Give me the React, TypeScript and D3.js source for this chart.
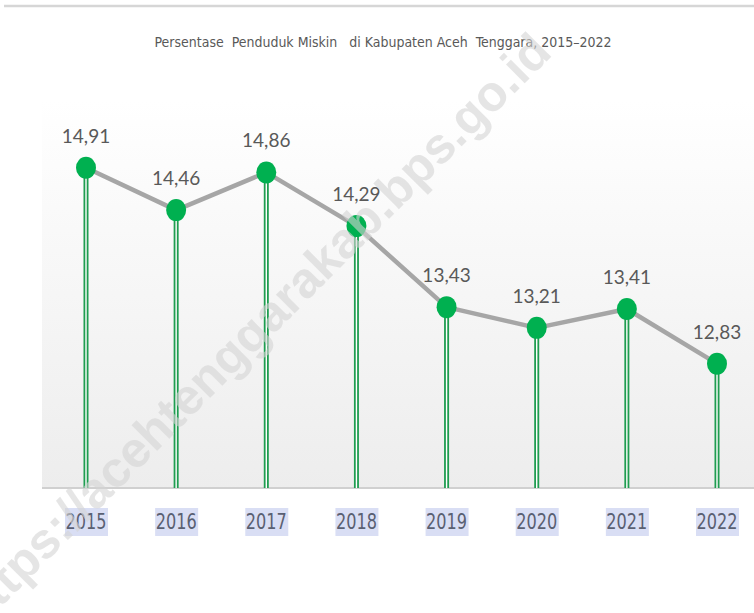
import React from "react";
import * as d3 from "d3";

const years = ["2015", "2016", "2017", "2018", "2019", "2020", "2021", "2022"];
const values = [14.91, 14.46, 14.86, 14.29, 13.43, 13.21, 13.41, 12.83];
const labels = ["14,91", "14,46", "14,86", "14,29", "13,43", "13,21", "13,41", "12,83"];
const title = "Persentase  Penduduk Miskin   di Kabupaten Aceh  Tenggara, 2015\u20132022";
const watermark = "https://acehtenggarakab.bps.go.id";

const W = 754;
const H = 613;
const plotLeft = 42;
const plotRight = 754;
const plotTop = 100;
const plotBottom = 488;

export default function App() {
  const x = d3.scalePoint<string>().domain(years).range([86, 717]);
  const y = d3.scaleLinear().domain([11.51, 15.5]).range([plotBottom, 488 - 3.99 * 94.2]);
  const line = d3
    .line<number>()
    .x((_, i) => x(years[i]) as number)
    .y((d) => y(d));

  return (
    <svg
      width={W}
      height={H}
      style={{ position: "absolute", left: 0, top: 0, background: "#fff" }}
    >
      <defs>
        <linearGradient id="bg" x1="0" y1="0" x2="0" y2="1">
          <stop offset="0" stopColor="#ffffff" />
          <stop offset="1" stopColor="#ededed" />
        </linearGradient>
      </defs>
      <rect x={0} y={0} width={W} height={H} fill="#fff" />
      <line x1={4} x2={W} y1={6} y2={6} stroke="#d6d6d6" strokeWidth={2.5} />
      <rect
        x={plotLeft}
        y={plotTop}
        width={plotRight - plotLeft}
        height={plotBottom - plotTop}
        fill="url(#bg)"
      />
      <line x1={plotLeft} x2={plotRight} y1={plotBottom} y2={plotBottom} stroke="#d0d0d0" strokeWidth={2} />
      <text
        x={383}
        y={47}
        textAnchor="middle"
        fontFamily="'DejaVu Sans Condensed', 'Open Sans', sans-serif"
        fontSize={14}
        fill="#595959"
        textLength={457}
        lengthAdjust="spacingAndGlyphs"
        style={{ whiteSpace: "pre" }}
      >
        {title}
      </text>
      {values.map((v, i) => {
        const cx = x(years[i]) as number;
        return (
          <g key={"drop" + i}>
            <line x1={cx} x2={cx} y1={y(v)} y2={plotBottom} stroke="#1f9d50" strokeWidth={5} />
            <line x1={cx} x2={cx} y1={y(v)} y2={plotBottom} stroke="#ffffff" strokeWidth={1.4} />
          </g>
        );
      })}
      <path
        d={line(values) || ""}
        fill="none"
        stroke="#a6a6a6"
        strokeWidth={4.5}
        strokeLinejoin="round"
      />
      {values.map((v, i) => (
        <ellipse
          key={"m" + i}
          cx={x(years[i]) as number}
          cy={y(v)}
          rx={10}
          ry={11}
          fill="#00b050"
        />
      ))}
      {values.map((v, i) => (
        <text
          key={"l" + i}
          x={x(years[i]) as number}
          y={y(v) - 25}
          textAnchor="middle"
          fontFamily="Lato, 'Open Sans', sans-serif"
          fontSize={19}
          fill="#595959"
        >
          {labels[i]}
        </text>
      ))}
      {years.map((yr) => {
        const cx = x(yr) as number;
        return (
          <g key={"x" + yr}>
            <rect x={cx - 21} y={508} width={43} height={28} fill="#d9def4" />
            <text
              x={cx}
              y={529}
              textAnchor="middle"
              fontFamily="'DejaVu Sans Condensed', sans-serif"
              fontSize={21}
              fill="#5a6072"
              textLength={41}
              lengthAdjust="spacingAndGlyphs"
            >
              {yr}
            </text>
          </g>
        );
      })}
      <text
        transform="translate(-22,630) rotate(-45)"
        fontFamily="'Liberation Sans', Arial, sans-serif"
        fontWeight="bold"
        fontSize={50}
        fill="#d4d4d4"
        fillOpacity={0.6}
      >
        {watermark}
      </text>
    </svg>
  );
}
